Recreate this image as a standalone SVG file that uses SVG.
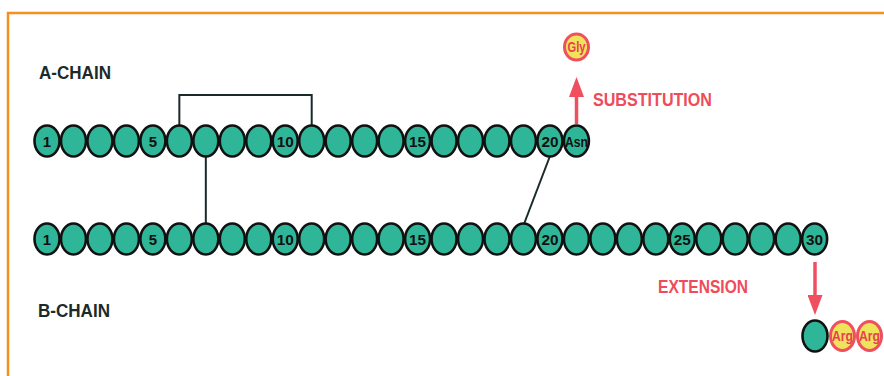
<svg xmlns="http://www.w3.org/2000/svg" width="884" height="376" viewBox="0 0 884 376">
<style>
.res{fill:#2fb597;stroke:#111;stroke-width:2.6}
.mut{fill:#f0e35c;stroke:#f04f5f;stroke-width:3}
.num{font-family:"Liberation Sans",Arial,sans-serif;font-weight:bold;font-size:15px;fill:#111;text-anchor:middle}
.mtx{font-family:"Liberation Sans",Arial,sans-serif;font-weight:bold;font-size:14px;fill:#e8404f;text-anchor:middle}
.lbl{font-family:"Liberation Sans",Arial,sans-serif;font-weight:bold;font-size:18px;fill:#1c2a2a}
.red{font-family:"Liberation Sans",Arial,sans-serif;font-weight:bold;font-size:19px;fill:#ef4b5b}
.bond{fill:none;stroke:#1a2a2a;stroke-width:2}
.arr{stroke:#f04f5f;stroke-width:3.5;fill:none}
</style>
<defs>
<marker id="head" viewBox="0 0 20 15" refX="10" refY="7.5" markerWidth="20" markerHeight="15" markerUnits="userSpaceOnUse" orient="auto">
<path d="M0,0 L20,7.5 L0,15 z" fill="#f04f5f"/>
</marker>
</defs>
<rect width="884" height="376" fill="#fff"/>
<path d="M8,376 V13 H884" fill="none" stroke="#f39020" stroke-width="2.5"/>

<text class="lbl" x="39" y="79" textLength="72" lengthAdjust="spacingAndGlyphs">A-CHAIN</text>
<text class="lbl" x="38" y="317" textLength="72" lengthAdjust="spacingAndGlyphs">B-CHAIN</text>
<text class="red" x="593" y="106" textLength="119" lengthAdjust="spacingAndGlyphs">SUBSTITUTION</text>
<text class="red" x="658" y="293" textLength="90" lengthAdjust="spacingAndGlyphs">EXTENSION</text>

<g id="connectors">
<path class="bond" d="M179.35,126 V95 H311.7 V126"/>
<path class="bond" d="M205.82,156 V224"/>
<path class="bond" d="M550,156 L524,224"/>
<line class="arr" x1="576.5" y1="124" x2="576.5" y2="87" marker-end="url(#head)"/>
<line class="arr" x1="815" y1="262" x2="815" y2="305" marker-end="url(#head)"/>
</g>

<g id="A1"><ellipse class="res" cx="47" cy="141" rx="12.5" ry="15.5"/><text class="num" x="47" y="146.5">1</text></g>
<g id="A2"><ellipse class="res" cx="73.47" cy="141" rx="12.5" ry="15.5"/></g>
<g id="A3"><ellipse class="res" cx="99.94" cy="141" rx="12.5" ry="15.5"/></g>
<g id="A4"><ellipse class="res" cx="126.41" cy="141" rx="12.5" ry="15.5"/></g>
<g id="A5"><ellipse class="res" cx="152.88" cy="141" rx="12.5" ry="15.5"/><text class="num" x="152.88" y="146.5">5</text></g>
<g id="A6"><ellipse class="res" cx="179.35" cy="141" rx="12.5" ry="15.5"/></g>
<g id="A7"><ellipse class="res" cx="205.82" cy="141" rx="12.5" ry="15.5"/></g>
<g id="A8"><ellipse class="res" cx="232.29" cy="141" rx="12.5" ry="15.5"/></g>
<g id="A9"><ellipse class="res" cx="258.76" cy="141" rx="12.5" ry="15.5"/></g>
<g id="A10"><ellipse class="res" cx="285.23" cy="141" rx="12.5" ry="15.5"/><text class="num" x="285.23" y="146.5" textLength="17" lengthAdjust="spacingAndGlyphs">10</text></g>
<g id="A11"><ellipse class="res" cx="311.7" cy="141" rx="12.5" ry="15.5"/></g>
<g id="A12"><ellipse class="res" cx="338.17" cy="141" rx="12.5" ry="15.5"/></g>
<g id="A13"><ellipse class="res" cx="364.64" cy="141" rx="12.5" ry="15.5"/></g>
<g id="A14"><ellipse class="res" cx="391.11" cy="141" rx="12.5" ry="15.5"/></g>
<g id="A15"><ellipse class="res" cx="417.58" cy="141" rx="12.5" ry="15.5"/><text class="num" x="417.58" y="146.5" textLength="17" lengthAdjust="spacingAndGlyphs">15</text></g>
<g id="A16"><ellipse class="res" cx="444.05" cy="141" rx="12.5" ry="15.5"/></g>
<g id="A17"><ellipse class="res" cx="470.52" cy="141" rx="12.5" ry="15.5"/></g>
<g id="A18"><ellipse class="res" cx="496.99" cy="141" rx="12.5" ry="15.5"/></g>
<g id="A19"><ellipse class="res" cx="523.46" cy="141" rx="12.5" ry="15.5"/></g>
<g id="A20"><ellipse class="res" cx="549.93" cy="141" rx="12.5" ry="15.5"/><text class="num" x="549.93" y="146.5" textLength="17" lengthAdjust="spacingAndGlyphs">20</text></g>
<g id="A21"><ellipse class="res" cx="576.4" cy="141" rx="12.5" ry="15.5"/><text class="num" x="576.4" y="146.5" textLength="23" lengthAdjust="spacingAndGlyphs">Asn</text></g>
<g id="Gly"><ellipse class="mut" cx="576.5" cy="47" rx="12" ry="13"/><text class="mtx" x="576.5" y="52" textLength="18" lengthAdjust="spacingAndGlyphs">Gly</text></g>

<g id="B1"><ellipse class="res" cx="47" cy="239" rx="12.5" ry="15.5"/><text class="num" x="47" y="244.5">1</text></g>
<g id="B2"><ellipse class="res" cx="73.47" cy="239" rx="12.5" ry="15.5"/></g>
<g id="B3"><ellipse class="res" cx="99.94" cy="239" rx="12.5" ry="15.5"/></g>
<g id="B4"><ellipse class="res" cx="126.41" cy="239" rx="12.5" ry="15.5"/></g>
<g id="B5"><ellipse class="res" cx="152.88" cy="239" rx="12.5" ry="15.5"/><text class="num" x="152.88" y="244.5">5</text></g>
<g id="B6"><ellipse class="res" cx="179.35" cy="239" rx="12.5" ry="15.5"/></g>
<g id="B7"><ellipse class="res" cx="205.82" cy="239" rx="12.5" ry="15.5"/></g>
<g id="B8"><ellipse class="res" cx="232.29" cy="239" rx="12.5" ry="15.5"/></g>
<g id="B9"><ellipse class="res" cx="258.76" cy="239" rx="12.5" ry="15.5"/></g>
<g id="B10"><ellipse class="res" cx="285.23" cy="239" rx="12.5" ry="15.5"/><text class="num" x="285.23" y="244.5" textLength="17" lengthAdjust="spacingAndGlyphs">10</text></g>
<g id="B11"><ellipse class="res" cx="311.7" cy="239" rx="12.5" ry="15.5"/></g>
<g id="B12"><ellipse class="res" cx="338.17" cy="239" rx="12.5" ry="15.5"/></g>
<g id="B13"><ellipse class="res" cx="364.64" cy="239" rx="12.5" ry="15.5"/></g>
<g id="B14"><ellipse class="res" cx="391.11" cy="239" rx="12.5" ry="15.5"/></g>
<g id="B15"><ellipse class="res" cx="417.58" cy="239" rx="12.5" ry="15.5"/><text class="num" x="417.58" y="244.5" textLength="17" lengthAdjust="spacingAndGlyphs">15</text></g>
<g id="B16"><ellipse class="res" cx="444.05" cy="239" rx="12.5" ry="15.5"/></g>
<g id="B17"><ellipse class="res" cx="470.52" cy="239" rx="12.5" ry="15.5"/></g>
<g id="B18"><ellipse class="res" cx="496.99" cy="239" rx="12.5" ry="15.5"/></g>
<g id="B19"><ellipse class="res" cx="523.46" cy="239" rx="12.5" ry="15.5"/></g>
<g id="B20"><ellipse class="res" cx="549.93" cy="239" rx="12.5" ry="15.5"/><text class="num" x="549.93" y="244.5" textLength="17" lengthAdjust="spacingAndGlyphs">20</text></g>
<g id="B21"><ellipse class="res" cx="576.4" cy="239" rx="12.5" ry="15.5"/></g>
<g id="B22"><ellipse class="res" cx="602.87" cy="239" rx="12.5" ry="15.5"/></g>
<g id="B23"><ellipse class="res" cx="629.34" cy="239" rx="12.5" ry="15.5"/></g>
<g id="B24"><ellipse class="res" cx="655.81" cy="239" rx="12.5" ry="15.5"/></g>
<g id="B25"><ellipse class="res" cx="682.28" cy="239" rx="12.5" ry="15.5"/><text class="num" x="682.28" y="244.5" textLength="17" lengthAdjust="spacingAndGlyphs">25</text></g>
<g id="B26"><ellipse class="res" cx="708.75" cy="239" rx="12.5" ry="15.5"/></g>
<g id="B27"><ellipse class="res" cx="735.22" cy="239" rx="12.5" ry="15.5"/></g>
<g id="B28"><ellipse class="res" cx="761.69" cy="239" rx="12.5" ry="15.5"/></g>
<g id="B29"><ellipse class="res" cx="788.16" cy="239" rx="12.5" ry="15.5"/></g>
<g id="B30"><ellipse class="res" cx="814.63" cy="239" rx="12.5" ry="15.5"/><text class="num" x="814.63" y="244.5" textLength="17" lengthAdjust="spacingAndGlyphs">30</text></g>

<g id="X30"><ellipse class="res" cx="815" cy="336" rx="12.5" ry="15.5"/></g>
<g id="Arg31"><ellipse class="mut" cx="842.5" cy="336" rx="12" ry="14.5"/><text class="mtx" x="842.5" y="341" textLength="21" lengthAdjust="spacingAndGlyphs">Arg</text></g>
<g id="Arg32"><ellipse class="mut" cx="869.5" cy="336" rx="12" ry="14.5"/><text class="mtx" x="869.5" y="341" textLength="21" lengthAdjust="spacingAndGlyphs">Arg</text></g>
</svg>
